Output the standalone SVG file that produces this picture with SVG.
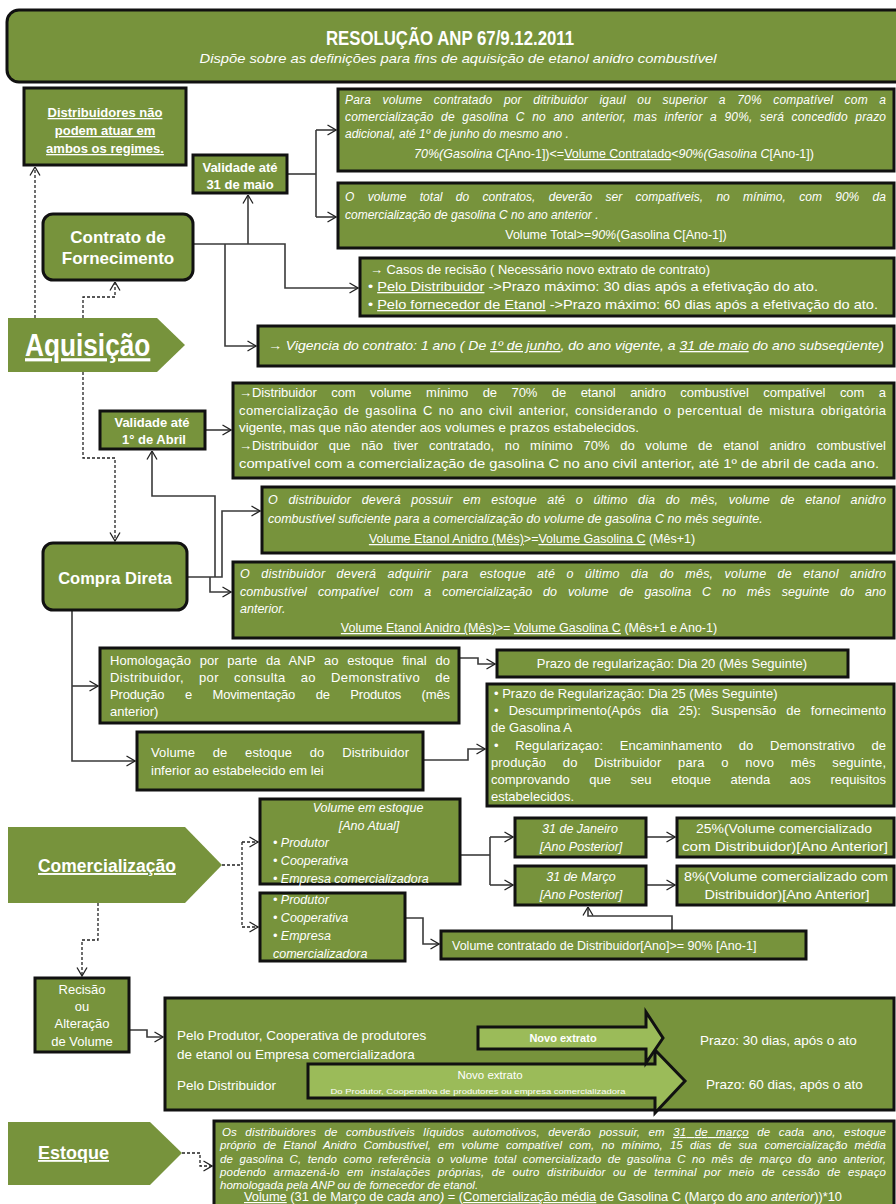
<svg xmlns="http://www.w3.org/2000/svg" width="896" height="1204" viewBox="0 0 896 1204">
<style>
svg{font-size:12px}
.bx{fill:#77933C;stroke:#111;stroke-width:3}
.pg{fill:#77933C}
.ba{fill:#9BBB59;stroke:#111;stroke-width:3}
text{font-family:"Liberation Sans",Arial,sans-serif;fill:#fff}
.i{font-style:italic}
.b{font-weight:bold}
.m{text-anchor:middle}
.u{text-decoration:underline}
.cn{fill:none;stroke:#3a3a3a;stroke-width:1.6}
.dn{fill:none;stroke:#222;stroke-width:1.3;stroke-dasharray:3 2}
</style>
<defs>
<marker id="ah" viewBox="0 0 10 12" refX="9.5" refY="6" markerWidth="10" markerHeight="12" markerUnits="userSpaceOnUse" orient="auto"><path d="M1,1 L9.5,6 L1,11" fill="none" stroke="#222" stroke-width="1.3"/></marker>
</defs>
<rect width="896" height="1204" fill="#fff"/>

<g id="node-header">
<rect x="7" y="10" width="910" height="72" rx="12" class="bx"/>
<text transform="translate(450,45) scale(0.84,1)" class="m b" font-size="20">RESOLUÇÃO ANP 67/9.12.2011</text>
<text x="458" y="63" class="m i" font-size="13.5" textLength="517" lengthAdjust="spacingAndGlyphs">Dispõe sobre as definições para fins de aquisição de etanol anidro combustível</text>
</g>

<g id="connectors">
<path class="cn" d="M193,244 H285 V288 H358" marker-end="url(#ah)"/>
<path class="cn" d="M248,244 V195" marker-end="url(#ah)"/>
<path class="cn" d="M225,244 V346 H256" marker-end="url(#ah)"/>
<path class="cn" d="M287,174 H316"/>
<path class="cn" d="M316,130 V217"/>
<path class="cn" d="M316,130 H336" marker-end="url(#ah)"/>
<path class="cn" d="M316,217 H336" marker-end="url(#ah)"/>
<path class="cn" d="M205,430 H231" marker-end="url(#ah)"/>
<path class="cn" d="M187,577 H222 V511 H260" marker-end="url(#ah)"/>
<path class="cn" d="M215,577 V496 H152 V451" marker-end="url(#ah)"/>
<path class="cn" d="M210,577 V592 H231" marker-end="url(#ah)"/>
<path class="cn" d="M72,610 V761 H135" marker-end="url(#ah)"/>
<path class="cn" d="M72,686 H98" marker-end="url(#ah)"/>
<path class="cn" d="M459,658 H478 V664 H495" marker-end="url(#ah)"/>
<path class="cn" d="M423,760 H468 V749 H485" marker-end="url(#ah)"/>
<path class="cn" d="M460,855 H490"/>
<path class="cn" d="M490,837 V885"/>
<path class="cn" d="M490,837 H513" marker-end="url(#ah)"/>
<path class="cn" d="M490,885 H513" marker-end="url(#ah)"/>
<path class="cn" d="M646,837 H675" marker-end="url(#ah)"/>
<path class="cn" d="M646,885 H675" marker-end="url(#ah)"/>
<path class="cn" d="M405,918 H423 V944 H439" marker-end="url(#ah)"/>
<path class="cn" d="M672,930 V916 H588 V907" marker-end="url(#ah)"/>
<path class="cn" d="M129,1030 H147 V1037 H163" marker-end="url(#ah)"/>
<path class="dn" d="M35,318 V167" marker-end="url(#ah)"/>
<path class="dn" d="M83,318 V297 H115 V282" marker-end="url(#ah)"/>
<path class="dn" d="M83,372 V458 H115 V541" marker-end="url(#ah)"/>
<path class="dn" d="M222,865 H242"/>
<path class="dn" d="M242,842 V927"/>
<path class="dn" d="M242,842 H258" marker-end="url(#ah)"/>
<path class="dn" d="M242,927 H258" marker-end="url(#ah)"/>
<path class="dn" d="M98,903 V940 H82 V976" marker-end="url(#ah)"/>
<path class="dn" d="M182,1153 H200 V1166 H212" marker-end="url(#ah)"/>
</g>

<g id="node-distribuidores">
<rect x="24" y="88" width="162" height="77" class="bx"/>
<text x="105" y="117" class="m b u" font-size="13">Distribuidores  não</text>
<text x="105" y="135" class="m b u" font-size="13">podem atuar em</text>
<text x="105" y="153" class="m b u" font-size="13">ambos os regimes.</text>
</g>

<g id="node-validade-maio">
<rect x="193" y="155" width="94" height="38" class="bx"/>
<text x="240" y="172" class="m b" font-size="13">Validade até</text>
<text x="240" y="189" class="m b" font-size="13">31 de maio</text>
</g>

<g id="node-prazo-adicional">
<rect x="338" y="89" width="556" height="82" class="bx"/>
<text x="345" y="104" class="i" word-spacing="8" textLength="541" lengthAdjust="spacing">Para volume contratado por ditribuidor igaul ou superior a 70% compatível com a</text>
<text x="345" y="121" class="i" word-spacing="4" textLength="541" lengthAdjust="spacing">comercialização de gasolina C no ano anterior, mas inferior a 90%, será concedido prazo</text>
<text x="345" y="138" class="i">adicional, até 1º de junho do mesmo ano .</text>
<text x="614" y="158" class="m" font-size="12.5"><tspan class="i">70%(Gasolina C</tspan>[Ano-1])&lt;=<tspan class="u">Volume Contratado</tspan>&lt;<tspan class="i">90%(Gasolina C</tspan>[Ano-1])</text>
</g>

<g id="node-volume-total">
<rect x="338" y="183" width="556" height="65" class="bx"/>
<text x="345" y="201" class="i" word-spacing="10" textLength="541" lengthAdjust="spacing">O volume total do contratos, deverão ser compatíveis, no mínimo, com 90% da</text>
<text x="345" y="219" class="i">comercialização de gasolina C no ano anterior .</text>
<text x="616" y="239" class="m" font-size="12.5">Volume Total&gt;=<tspan class="i">90%</tspan>(Gasolina C[Ano-1])</text>
</g>

<g id="node-contrato">
<rect x="43" y="214" width="150" height="66" rx="10" class="bx"/>
<text x="118" y="243" class="m b" font-size="17">Contrato de</text>
<text x="118" y="264" class="m b" font-size="17">Fornecimento</text>
</g>

<g id="node-recisao-contrato">
<rect x="360" y="258" width="534" height="58" class="bx"/>
<text x="370" y="274" font-size="13" textLength="340" lengthAdjust="spacingAndGlyphs">→ Casos de recisão ( Necessário novo extrato de contrato)</text>
<text x="368" y="291" font-size="13" textLength="450" lengthAdjust="spacingAndGlyphs">• <tspan class="u">Pelo Distribuidor</tspan>  -&gt;Prazo máximo: 30 dias após a efetivação do ato.</text>
<text x="368" y="309" font-size="13" textLength="510" lengthAdjust="spacingAndGlyphs">• <tspan class="u">Pelo fornecedor  de Etanol</tspan> -&gt;Prazo máximo: 60 dias após a efetivação do ato.</text>
</g>

<g id="node-aquisicao">
<polygon class="pg" points="8,318 157,318 185,345 157,372 8,372"/>
<text transform="translate(25,356) scale(0.82,1)" class="b u" font-size="32">Aquisição</text>
</g>

<g id="node-vigencia">
<rect x="258" y="326" width="636" height="40" class="bx"/>
<text x="268" y="350" class="i" font-size="13" textLength="616" lengthAdjust="spacingAndGlyphs">→ Vigencia do contrato: 1 ano ( De <tspan class="u">1º de junho</tspan>, do ano vigente, a <tspan class="u">31 de maio</tspan> do ano subseqüente)</text>
</g>

<g id="node-validade-abril">
<rect x="100" y="411" width="105" height="38" class="bx"/>
<text x="152" y="427" class="m b" font-size="13">Validade até</text>
<text x="154" y="444" class="m b" font-size="13">1° de Abril</text>
</g>

<g id="node-distribuidor-70">
<rect x="233" y="383" width="661" height="95" class="bx"/>
<text x="239" y="397" font-size="13" word-spacing="11" textLength="647" lengthAdjust="spacing">→Distribuidor com volume mínimo de 70% de etanol anidro combustível compatível com a</text>
<text x="239" y="415" font-size="13" word-spacing="2" textLength="647" lengthAdjust="spacing">comercialização de gasolina C no ano civil anterior, considerando o percentual de mistura obrigatória</text>
<text x="239" y="432" font-size="13" textLength="400" lengthAdjust="spacingAndGlyphs">vigente, mas que não atender  aos volumes e prazos estabelecidos.</text>
<text x="239" y="450" font-size="13" word-spacing="7" textLength="647" lengthAdjust="spacing">→Distribuidor que não tiver contratado, no mínimo 70% do volume de etanol anidro combustível</text>
<text x="239" y="468" font-size="13" textLength="640" lengthAdjust="spacingAndGlyphs">compatível com a comercialização de gasolina C no ano civil anterior, até 1º de abril de cada ano.</text>
</g>

<g id="node-estoque-mes">
<rect x="262" y="487" width="632" height="66" class="bx"/>
<text x="268" y="504" class="i" font-size="12.5" word-spacing="7" textLength="618" lengthAdjust="spacing">O distribuidor deverá possuir em estoque até o último dia do mês, volume de etanol anidro</text>
<text x="268" y="523" class="i" font-size="12.5">combustível suficiente para a  comercialização do volume de gasolina C no mês seguinte.</text>
<text x="532" y="543" class="m" font-size="12.5"><tspan class="u">Volume  Etanol Anidro  (Mês)</tspan>&gt;=<tspan class="u">Volume  Gasolina C</tspan> (Mês+1)</text>
</g>

<g id="node-compra-direta">
<rect x="43" y="543" width="144" height="67" rx="10" class="bx"/>
<text x="115" y="584" class="m b" font-size="16.5">Compra Direta</text>
</g>

<g id="node-adquirir-estoque">
<rect x="233" y="562" width="661" height="76" class="bx"/>
<text x="240" y="578" class="i" font-size="12.5" word-spacing="7.5" textLength="646" lengthAdjust="spacing">O distribuidor deverá adquirir para estoque até o último dia do mês, volume de etanol anidro</text>
<text x="240" y="596" class="i" font-size="12.5" word-spacing="7.5" textLength="646" lengthAdjust="spacing">combustível compatível com a  comercialização do volume de gasolina C no mês seguinte do ano</text>
<text x="240" y="613" class="i" font-size="12.5">anterior.</text>
<text x="529" y="632" class="m" font-size="12.5"><tspan class="u">Volume Etanol Anidro  (Mês)</tspan>&gt;= <tspan class="u">Volume Gasolina C</tspan> (Mês+1 e Ano-1)</text>
</g>

<g id="node-homologacao">
<rect x="100" y="648" width="359" height="75" class="bx"/>
<text x="110" y="665" font-size="13" word-spacing="5" textLength="340" lengthAdjust="spacing">Homologação por parte da ANP ao estoque final do</text>
<text x="110" y="682" font-size="13" word-spacing="11" textLength="340" lengthAdjust="spacing">Distribuidor, por consulta ao Demonstrativo de</text>
<text x="110" y="699" font-size="13" word-spacing="17" textLength="340" lengthAdjust="spacing">Produção e Movimentação de Produtos (mês</text>
<text x="110" y="716" font-size="13">anterior)</text>
</g>

<g id="node-prazo-20">
<rect x="497" y="650" width="351" height="27" class="bx"/>
<text x="672" y="668" class="m" font-size="13">Prazo de regularização: Dia 20 (Mês Seguinte)</text>
</g>

<g id="node-volume-inferior">
<rect x="137" y="732" width="286" height="58" class="bx"/>
<text x="151" y="757" font-size="13" word-spacing="14" textLength="258" lengthAdjust="spacing">Volume de estoque  do Distribuidor</text>
<text x="151" y="775" font-size="13">inferior ao estabelecido em lei</text>
</g>

<g id="node-prazo-25">
<rect x="487" y="684" width="407" height="122" class="bx"/>
<text x="494" y="698" font-size="13">• Prazo de Regularização: Dia 25 (Mês Seguinte)</text>
<text x="494" y="715" font-size="13" word-spacing="6.5" textLength="392" lengthAdjust="spacing">• Descumprimento(Após dia 25): Suspensão de fornecimento</text>
<text x="491" y="732" font-size="13">de Gasolina A</text>
<text x="494" y="750" font-size="13" word-spacing="13" textLength="392" lengthAdjust="spacing">• Regularizaçao: Encaminhamento do Demonstrativo de</text>
<text x="491" y="767" font-size="13" word-spacing="13" textLength="395" lengthAdjust="spacing">produção do Distribuidor para o novo mês seguinte,</text>
<text x="491" y="784" font-size="13" word-spacing="16" textLength="395" lengthAdjust="spacing">comprovando que seu etoque atenda aos requisitos</text>
<text x="491" y="801" font-size="13">estabelecidos.</text>
</g>

<g id="node-comercializacao">
<polygon class="pg" points="8,827 185,827 222,865 185,903 8,903"/>
<text transform="translate(38,872) scale(0.92,1)" class="b u" font-size="19">Comercialização</text>
</g>

<g id="node-volume-estoque">
<rect x="260" y="799" width="200" height="85" class="bx"/>
<text x="368" y="812" class="m i" font-size="12.5">Volume em estoque</text>
<text x="369" y="830" class="m i" font-size="12.5">[Ano Atual]</text>
<text x="273" y="847" class="i" font-size="12.5">• Produtor</text>
<text x="273" y="865" class="i" font-size="12.5">• Cooperativa</text>
<text x="273" y="883" class="i" font-size="12.5">• Empresa comercializadora</text>
</g>

<g id="node-lista-2">
<rect x="260" y="893" width="145" height="68" class="bx"/>
<text x="273" y="904" class="i" font-size="12.5">• Produtor</text>
<text x="273" y="922" class="i" font-size="12.5">• Cooperativa</text>
<text x="273" y="940" class="i" font-size="12.5">• Empresa</text>
<text x="273" y="958" class="i" font-size="12.5">comercializadora</text>
</g>

<g id="node-31-janeiro">
<rect x="515" y="818" width="131" height="39" class="bx"/>
<text x="580" y="833" class="m i" font-size="12.5">31 de Janeiro</text>
<text x="581" y="851" class="m i" font-size="12.5">[Ano Posterior]</text>
</g>

<g id="node-31-marco">
<rect x="515" y="866" width="131" height="39" class="bx"/>
<text x="581" y="881" class="m i" font-size="12.5">31 de Março</text>
<text x="581" y="899" class="m i" font-size="12.5">[Ano Posterior]</text>
</g>

<g id="node-25">
<rect x="677" y="818" width="217" height="39" class="bx"/>
<text x="784" y="833" class="m" font-size="12.5" textLength="176" lengthAdjust="spacingAndGlyphs">25%(Volume comercializado</text>
<text x="785" y="851" class="m" font-size="12.5" textLength="206" lengthAdjust="spacingAndGlyphs">com Distribuidor)[Ano  Anterior]</text>
</g>

<g id="node-8">
<rect x="677" y="866" width="217" height="39" class="bx"/>
<text x="786" y="881" class="m" font-size="12.5" textLength="204" lengthAdjust="spacingAndGlyphs">8%(Volume comercializado com</text>
<text x="787" y="899" class="m" font-size="12.5" textLength="165" lengthAdjust="spacingAndGlyphs">Distribuidor)[Ano  Anterior]</text>
</g>

<g id="node-volume-contratado">
<rect x="441" y="931" width="365" height="28" class="bx"/>
<text x="452" y="950" font-size="12.5">Volume contratado de Distribuidor[Ano]&gt;=  90% [Ano-1]</text>
</g>

<g id="node-recisao">
<rect x="35" y="978" width="94" height="74" class="bx"/>
<text x="82" y="994" class="m" font-size="13">Recisão</text>
<text x="82" y="1011" class="m" font-size="13">ou</text>
<text x="82" y="1028" class="m" font-size="13">Alteração</text>
<text x="82" y="1046" class="m" font-size="13">de Volume</text>
</g>

<g id="node-recisao-detalhe">
<rect x="165" y="998" width="729" height="112" class="bx"/>
<text x="177" y="1040" font-size="13.5">Pelo Produtor, Cooperativa de produtores</text>
<text x="177" y="1059" font-size="13.5">de etanol ou Empresa comercializadora</text>
<text x="177" y="1090" font-size="13.5">Pelo Distribuidor</text>
<polygon class="ba" points="308,1064 655,1064 655,1050 685,1081 655,1113 655,1098 308,1098"/>
<polygon class="ba" points="478,1027 646,1027 646,1012 663,1038 646,1063 646,1049 478,1049"/>
<text x="563" y="1042" class="m b" font-size="11">Novo extrato</text>
<text x="490" y="1079" class="m" font-size="11.5">Novo extrato</text>
<text x="478" y="1094" class="m" font-size="7.5" textLength="295" lengthAdjust="spacingAndGlyphs">Do Produtor, Cooperativa de produtores ou empresa comercializadora</text>
<text x="700" y="1045" font-size="13.5">Prazo: 30 dias, após o ato</text>
<text x="706" y="1089" font-size="13.5">Prazo: 60 dias, após o ato</text>
</g>

<g id="node-estoque">
<polygon class="pg" points="8,1122 150,1122 182,1153 150,1185 8,1185"/>
<text x="38" y="1159" class="b u" font-size="18">Estoque</text>
</g>

<g id="node-estoque-texto">
<rect x="214" y="1121" width="680" height="95" class="bx"/>
<text x="222" y="1136" class="i" font-size="11.5" word-spacing="5" textLength="664" lengthAdjust="spacing">Os distribuidores de combustíveis líquidos automotivos, deverão possuir, em <tspan class="u">31 de março</tspan> de cada ano, estoque</text>
<text x="220" y="1149" class="i" font-size="11.5" word-spacing="4" textLength="666" lengthAdjust="spacing">próprio de Etanol Anidro Combustível, em volume compatível com, no mínimo, 15 dias de sua comercialização média</text>
<text x="220" y="1163" class="i" font-size="11.5" word-spacing="3" textLength="666" lengthAdjust="spacing">de gasolina C, tendo como referência o volume total comercializado de gasolina C no mês de março do ano anterior,</text>
<text x="220" y="1176" class="i" font-size="11.5" word-spacing="4" textLength="666" lengthAdjust="spacing">podendo armazená-lo em instalações próprias, de outro distribuidor ou de terminal por meio de cessão de espaço</text>
<text x="220" y="1189" class="i" font-size="11.5">homologada pela ANP ou de fornecedor de etanol.</text>
<text x="543" y="1201" class="m" font-size="12" textLength="598" lengthAdjust="spacingAndGlyphs"><tspan class="u">Volume</tspan> (31 de Março de <tspan class="i">cada ano)</tspan> = (<tspan class="u">Comercialização média</tspan> de Gasolina C (Março do <tspan class="i">ano anterior</tspan>))*10</text>
</g>
</svg>
